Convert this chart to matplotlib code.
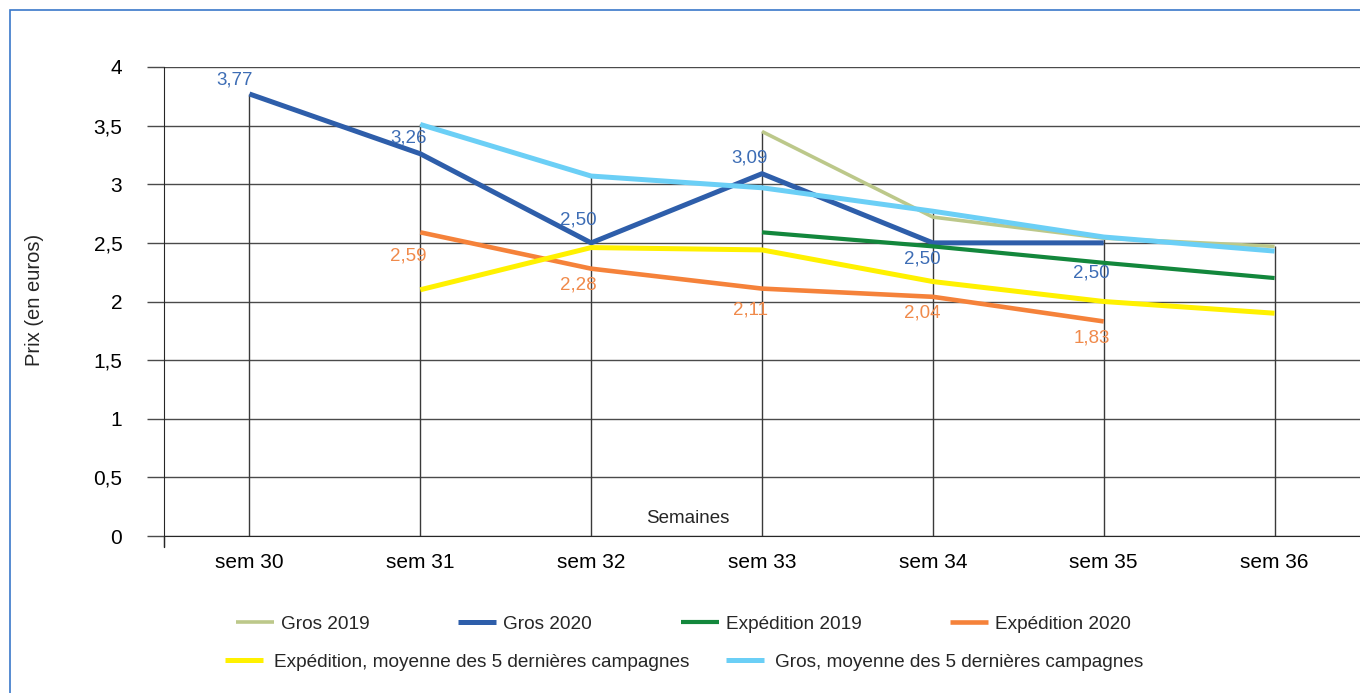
import numpy as np
import matplotlib.pyplot as plt
from matplotlib.patches import Rectangle

plt.rcParams['font.family'] = ['Liberation Sans', 'DejaVu Sans']
plt.rcParams['text.color'] = '#262626'

# --- données (prix en euros) ---
semaines = ['sem 30', 'sem 31', 'sem 32', 'sem 33', 'sem 34', 'sem 35', 'sem 36']
nan = np.nan
gros_2019 = [nan, nan, nan, 3.45, 2.72, 2.54, 2.47]
gros_2020 = [3.77, 3.26, 2.50, 3.09, 2.50, 2.50, nan]
exp_2019 = [nan, nan, nan, 2.59, 2.47, 2.33, 2.20]
exp_2020 = [nan, 2.59, 2.28, 2.11, 2.04, 1.83, nan]
exp_moy5 = [nan, 2.10, 2.46, 2.44, 2.17, 2.00, 1.90]
gros_moy5 = [nan, 3.51, 3.07, 2.97, 2.77, 2.55, 2.43]
y_ticks = [0, 0.5, 1, 1.5, 2, 2.5, 3, 3.5, 4]
y_ticklabels = ['0', '0,5', '1', '1,5', '2', '2,5', '3', '3,5', '4']

series = [
    ('Gros 2019', gros_2019, '#BCC88A', 2.6),
    ('Gros 2020', gros_2020, '#2E5EAA', 3.6),
    ('Expédition 2019', exp_2019, '#13873C', 3.0),
    ('Expédition 2020', exp_2020, '#F5823A', 3.3),
    ('Expédition, moyenne des 5 dernières campagnes', exp_moy5, '#FFF100', 3.6),
    ('Gros, moyenne des 5 dernières campagnes', gros_moy5, '#6BCFF6', 3.6),
]

# décalages des étiquettes (pixels)
off_gros20 = [(-15, 14), (-12, 16), (-13, 23), (-12, 16), (-11, -16), (-12, -30), None]
off_exp20 = [None, (-12, -24), (-13, -16), (-12, -21), (-11, -16), (-12, -17), None]

fig = plt.figure(figsize=(13.6, 6.93), dpi=100)
ax = fig.add_axes([164/1360, 157/693, 1196/1360, 469/693])

x = np.arange(len(semaines))

# lignes de projection
tops = np.nanmax(np.array([s[1] for s in series], dtype=float), axis=0)
ax.vlines(x, 0, tops, color='#3a3a3a', lw=1, zorder=1)

handles = []
for name, vals, col, lw in series:
    h, = ax.plot(x, vals, color=col, lw=lw, label=name, zorder=3,
                 solid_capstyle='butt', solid_joinstyle='round')
    handles.append(h)

for xi, v, off in zip(x, gros_2020, off_gros20):
    if off is None or np.isnan(v):
        continue
    ax.annotate(f'{v:.2f}'.replace('.', ','), (xi, v), xytext=off,
                textcoords='offset pixels', ha='center', va='center',
                fontsize=13.5, color='#3D6DB5', zorder=5)
for xi, v, off in zip(x, exp_2020, off_exp20):
    if off is None or np.isnan(v):
        continue
    ax.annotate(f'{v:.2f}'.replace('.', ','), (xi, v), xytext=off,
                textcoords='offset pixels', ha='center', va='center',
                fontsize=13.5, color='#F08A4B', zorder=5)

ax.set_xlim(-0.5, 6.5)
ax.set_ylim(0, 4)
ax.set_yticks(y_ticks)
ax.set_yticklabels(y_ticklabels, fontsize=15)
ax.yaxis.grid(True, color='#4a4a4a', lw=1)
ax.set_axisbelow(True)
ax.tick_params(axis='y', length=12, width=1, color='#4a4a4a', pad=18)

ax.set_xticks(x)
ax.set_xticklabels(semaines, fontsize=15)
ax.set_xticks([-0.5, 1, 2, 3, 4, 5, 6], minor=True)
ax.tick_params(axis='x', which='major', length=0, pad=12)
ax.tick_params(axis='x', which='minor', length=8, width=1, color='#262626')

for s in ['top', 'right']:
    ax.spines[s].set_visible(False)
ax.spines['left'].set_color('#262626')
ax.spines['bottom'].set_color('#262626')
ax.spines['left'].set_bounds(-0.09, 4)

ax.text(0.438, 0.038, 'Semaines', transform=ax.transAxes, ha='center',
        va='center', fontsize=13.5)
fig.text(35/1360, (693-300)/693, 'Prix (en euros)', rotation=90,
         ha='center', va='center', fontsize=14.5)

leg1 = fig.legend(handles=handles[:4], loc='center left',
                  bbox_to_anchor=(236/1360, 69/693), ncol=4, frameon=False,
                  fontsize=13.7, handlelength=2.0, handletextpad=0.37,
                  columnspacing=4.65, borderaxespad=0, borderpad=0)
leg2 = fig.legend(handles=handles[4:], loc='center left',
                  bbox_to_anchor=(225/1360, 31/693), ncol=2, frameon=False,
                  fontsize=13.7, handlelength=2.0, handletextpad=0.6,
                  columnspacing=1.9, borderaxespad=0, borderpad=0)

fig.patches.append(Rectangle((10/1360, -0.05), 1.1, (693-10)/693 + 0.05,
                             transform=fig.transFigure, fill=False,
                             edgecolor='#3A78C9', lw=1.2))

fig.savefig('out.png', dpi=100)
